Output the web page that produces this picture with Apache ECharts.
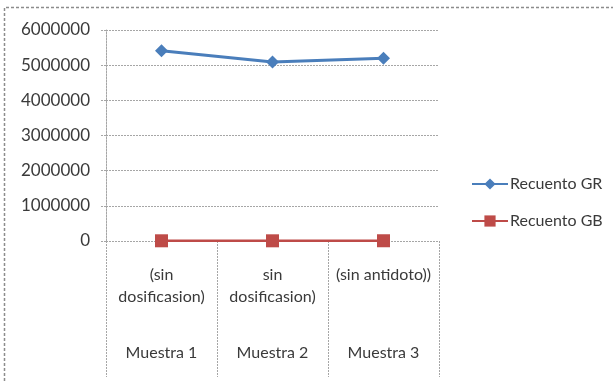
<!DOCTYPE html>
<html>
<head>
<meta charset="utf-8">
<script src="https://cdn.jsdelivr.net/npm/echarts@6/dist/echarts.min.js"></script>
<style>
  html, body { margin: 0; padding: 0; background: #fff; }
  #chart { width: 613px; height: 381px; }
</style>
</head>
<body>
<div id="chart"></div>
<script>
// Two-level category labels: detail line above, sample name below
const subLabels = ['(sin\ndosificasion)', 'sin\ndosificasion)', '(sin antidoto))'];
const groupLabels = ['Muestra 1', 'Muestra 2', 'Muestra 3'];

// Counts per sample
const recuentoGR = [5410000, 5090000, 5200000];
const recuentoGB = [6000, 5500, 7000];

const yTicks = [0, 1000000, 2000000, 3000000, 4000000, 5000000, 6000000];

const textColor = '#3a3a3a';
const gridColor = '#a6a6a6';
const font = 'Lato';

const chart = echarts.init(document.getElementById('chart'));
chart.setOption({
  animation: false,
  backgroundColor: '#fff',
  textStyle: { fontFamily: font, color: textColor },
  grid: { left: 106, right: 174, top: 30, bottom: 140, containLabel: false },
  legend: {
    orient: 'vertical',
    left: 466,
    top: 171,
    itemWidth: 36,
    itemHeight: 14,
    itemGap: 21,
    textStyle: { fontFamily: font, fontSize: 16, color: textColor, padding: [0, 0, 0, -3] },
    data: ['Recuento GR', 'Recuento GB']
  },
  xAxis: [
    {
      type: 'category',
      data: subLabels,
      boundaryGap: true,
      axisLine: { show: false },
      axisTick: {
        show: true, interval: 0, length: 136,
        lineStyle: { color: gridColor, width: 1, type: [2, 1] }
      },
      axisLabel: {
        interval: 0, margin: 23, fontFamily: font, fontSize: 16,
        color: textColor, lineHeight: 22, verticalAlign: 'top'
      }
    },
    {
      type: 'category',
      data: groupLabels,
      position: 'bottom',
      boundaryGap: true,
      axisLine: { show: false },
      axisTick: { show: false },
      axisLabel: {
        interval: 0, margin: 101, fontFamily: font, fontSize: 16,
        color: textColor, lineHeight: 22, verticalAlign: 'top'
      }
    }
  ],
  yAxis: {
    type: 'value',
    min: yTicks[0],
    max: yTicks[yTicks.length - 1],
    interval: yTicks[1] - yTicks[0],
    axisLine: { show: true, lineStyle: { color: gridColor, width: 1, type: [2, 1] } },
    axisTick: { show: true, length: 6, lineStyle: { color: gridColor, type: [2, 1] } },
    splitLine: { show: true, lineStyle: { color: gridColor, width: 1, type: [2, 1] } },
    axisLabel: {
      margin: 16, fontFamily: font, fontSize: 17, color: textColor,
      formatter: v => String(v)
    }
  },
  series: [
    {
      name: 'Recuento GR',
      type: 'line',
      data: recuentoGR,
      symbol: 'diamond',
      symbolSize: 13,
      lineStyle: { color: '#4a7ebb', width: 3 },
      itemStyle: { color: '#4a7ebb' },
      z: 3
    },
    {
      name: 'Recuento GB',
      type: 'line',
      data: recuentoGB,
      symbol: 'rect',
      symbolSize: 13,
      lineStyle: { color: '#be4b48', width: 2.5 },
      itemStyle: { color: '#be4b48' },
      z: 3
    }
  ],
  graphic: [
    {
      type: 'polyline',
      shape: { points: [[4.5, 381], [4.5, 7.5], [613, 7.5]] },
      style: { stroke: '#8c8c8c', lineWidth: 1.5, lineDash: [3, 2], fill: null },
      silent: true
    }
  ]
});
</script>
</body>
</html>
